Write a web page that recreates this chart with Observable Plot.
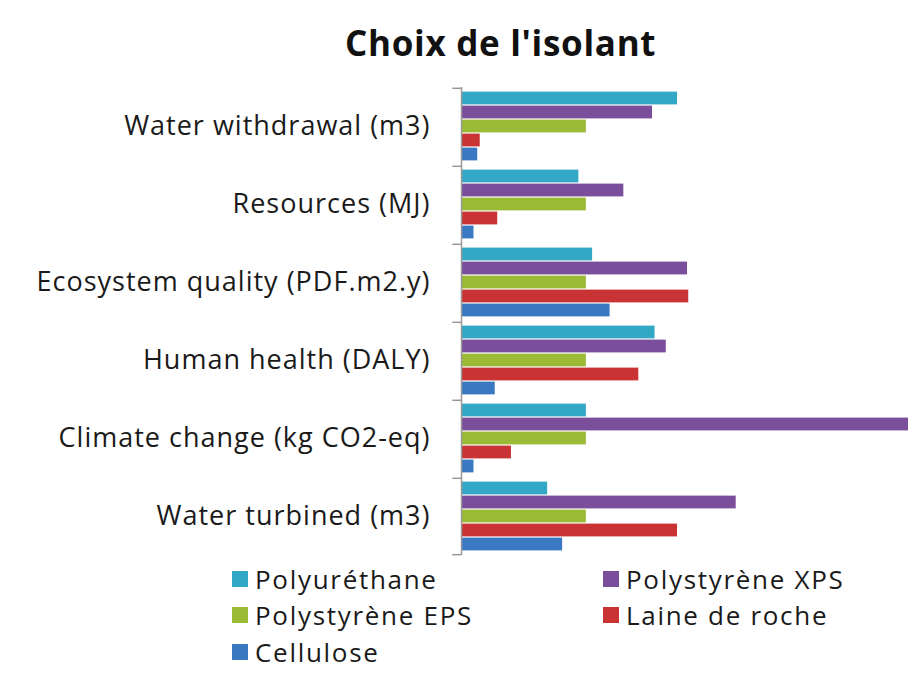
<!DOCTYPE html>
<html>
<head>
<meta charset="utf-8">
<script src="https://cdn.jsdelivr.net/npm/d3@7"></script>
<script src="https://cdn.jsdelivr.net/npm/@observablehq/plot@0.6"></script>
<style>
  html, body { margin: 0; padding: 0; background: #fff; }
  body { width: 908px; height: 685px; overflow: hidden; font-family: "Open Sans", sans-serif; }
  #title { height: 75px; position: relative; }
  #title span { position: absolute; left: 345px; top: 23px; letter-spacing: 0.7px; font-weight: bold; font-size: 35px; color: #111; line-height: 40px; white-space: nowrap; }
  #legend { position: relative; height: 110px; }
  .item { position: absolute; display: flex; align-items: center; font-size: 26px; color: #1a1a1a; height: 30px; letter-spacing: 1.7px; white-space: nowrap; }
  .sw { width: 16px; height: 16px; margin-right: 7px; flex: none; }
</style>
</head>
<body>
<div id="title"><span>Choix de l'isolant</span></div>
<div id="chart"></div>
<div id="legend"></div>
<script>
const categories = [
  "Water withdrawal (m3)",
  "Resources (MJ)",
  "Ecosystem quality (PDF.m2.y)",
  "Human health (DALY)",
  "Climate change (kg CO2-eq)",
  "Water turbined (m3)"
];
const series = ["Polyuréthane", "Polystyrène XPS", "Polystyrène EPS", "Laine de roche", "Cellulose"];
const colors = ["#33a8c6", "#7b4e9c", "#9bba35", "#c93333", "#3a78c2"];

const polyurethane = [173, 94, 105, 155, 100, 69];
const polystyreneXPS = [153, 130, 181, 164, 400, 220];
const polystyreneEPS = [100, 100, 100, 100, 100, 100];
const laineDeRoche = [15, 29, 182, 142, 40, 173];
const cellulose = [13, 10, 119, 27, 10, 81];

const seriesValues = [polyurethane, polystyreneXPS, polystyreneEPS, laineDeRoche, cellulose];
const data = [];
categories.forEach((c, i) => {
  series.forEach((s, j) => data.push({category: c, series: s, value: seriesValues[j][i]}));
});

const chart = Plot.plot({
  width: 908,
  height: 490,
  marginLeft: 461,
  marginRight: 0,
  marginTop: 10,
  marginBottom: 8,
  style: {fontFamily: "'Open Sans', sans-serif", color: "#1a1a1a", background: "#fff", letterSpacing: "1px"},
  x: {domain: [0, 358], axis: null},
  y: {domain: series, axis: null, paddingInner: 0, paddingOuter: 0.2},
  fy: {domain: categories, padding: 0, label: null},
  color: {domain: series, range: colors},
  marks: [
    Plot.barX(data, {x: "value", y: "series", fy: "category", fill: "series", clip: true, insetTop: 0.6, insetBottom: 0.6}),
    Plot.ruleX(categories, {x: () => 0, fy: d => d, stroke: "#999", strokeWidth: 1.5}),
    Plot.ruleY(categories, {fy: d => d, y: () => series[0], x1: -7, x2: 0, dy: -10.2, stroke: "#999", strokeWidth: 1.5}),
    Plot.ruleY(categories.slice(-1), {fy: d => d, y: () => series[series.length - 1], x1: -7, x2: 0, dy: 10.2, stroke: "#999", strokeWidth: 1.5}),
    Plot.axisFy({anchor: "left", tickSize: 0, tickPadding: 31, fontSize: 27, label: null, fill: "#1a1a1a"})
  ]
});
document.getElementById("chart").appendChild(chart);

const legend = document.getElementById("legend");
const legendPos = [[232, -1], [603, -1], [232, 35], [603, 35], [232, 72]];
series.forEach((s, j) => {
  const item = document.createElement("div");
  item.className = "item";
  item.style.left = legendPos[j][0] + "px";
  item.style.top = legendPos[j][1] + "px";
  const sw = document.createElement("span");
  sw.className = "sw";
  sw.style.background = colors[j];
  item.appendChild(sw);
  item.appendChild(document.createTextNode(s));
  legend.appendChild(item);
});
</script>
</body>
</html>
